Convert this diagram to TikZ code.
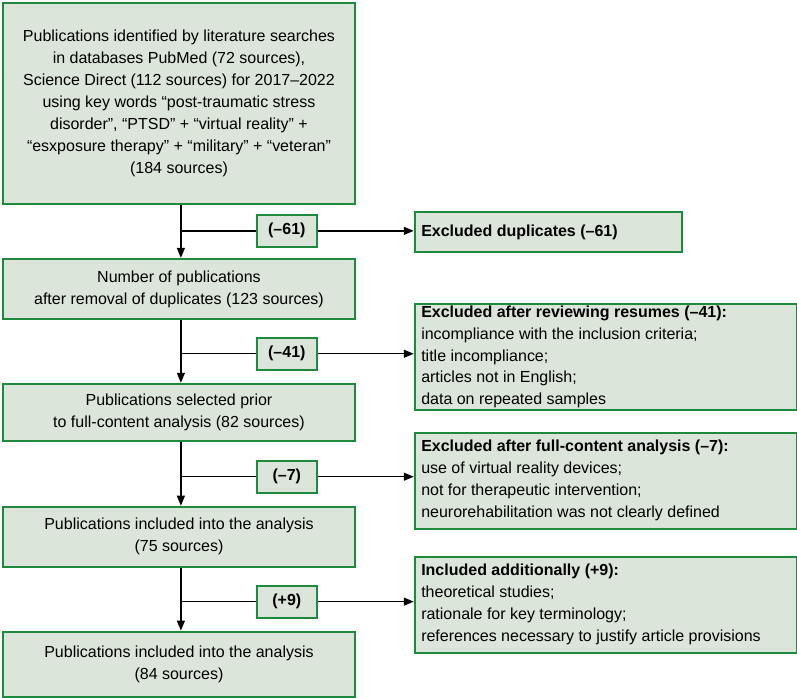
\documentclass[tikz,border=0pt]{standalone}
\usepackage{fontspec}
\setmainfont{Liberation Sans}
\usetikzlibrary{arrows.meta}
\definecolor{bfill}{HTML}{DCE5D9}
\definecolor{bdraw}{HTML}{1E8A3E}
\tikzset{
  box/.style={draw=bdraw,fill=bfill,line width=2.2pt,inner sep=0pt,anchor=north west},
  lbl/.style={draw=bdraw,fill=bfill,line width=2.2pt,minimum width=60pt,minimum height=32pt,font=\fontsize{16}{22}\selectfont\bfseries},
  con/.style={line width=1.3pt},
  arr/.style={con,-{Triangle[length=10pt,width=8pt]}},
  txt/.style={font=\fontsize{16}{22}\selectfont},
  btxt/.style={font=\fontsize{16}{22}\selectfont\bfseries},
}
\newcommand{\bx}[6]{% name, x1,y1,x2,y2, text
  \node[box,minimum width=#4pt-#2pt,minimum height=#5pt-#3pt] (#1) at (#2pt,-#3pt) {};
  #6}
\begin{document}
\begin{tikzpicture}[x=1pt,y=1pt]
\useasboundingbox (0,0) rectangle (797.5,-698);
% left boxes
\bx{b1}{2}{2}{354}{203}{\node[txt,align=center] at (b1.center) {Publications identified by literature searches\\in databases PubMed (72 sources),\\Science Direct (112 sources) for 2017–2022\\using key words “post-traumatic stress\\disorder”, “PTSD” + “virtual reality” +\\“esxposure therapy” + “military” + “veteran”\\(184 sources)};}
\bx{b2}{2}{258}{354}{318}{\node[txt,align=center] at (b2.center) {Number of publications\\after removal of duplicates (123 sources)};}
\bx{b3}{2}{383}{354}{440}{\node[txt,align=center] at (b3.center) {Publications selected prior\\to full-content analysis (82 sources)};}
\bx{b4}{2}{506}{354}{566}{\node[txt,align=center] at (b4.center) {Publications included into the analysis\\(75 sources)};}
\bx{b5}{2}{631}{354}{696}{\node[txt,align=center] at (b5.center) {Publications included into the analysis\\(84 sources)};}
% right boxes
\bx{r1}{414}{211}{681}{251}{\node[btxt,anchor=west] at ([xshift=4pt]r1.west) {Excluded duplicates (–61)};}
\bx{r2}{414}{303}{796}{409}{\node[txt,anchor=west,align=left] at ([xshift=4pt]r2.west) {\textbf{Excluded after reviewing resumes (–41):}\\incompliance with the inclusion criteria;\\title incompliance;\\articles not in English;\\data on repeated samples};}
\bx{r3}{414}{432}{796}{528}{\node[txt,anchor=west,align=left] at ([xshift=4pt]r3.west) {\textbf{Excluded after full-content analysis (–7):}\\use of virtual reality devices;\\not for therapeutic intervention;\\neurorehabilitation was not clearly defined};}
\bx{r4}{414}{556}{796}{652}{\node[txt,anchor=west,align=left] at ([xshift=4pt]r4.west) {\textbf{Included additionally (+9):}\\theoretical studies;\\rationale for key terminology;\\references necessary to justify article provisions};}
% branch coordinates
\coordinate (j1) at (181,-231);
\coordinate (j2) at (181,-354);
\coordinate (j3) at (181,-477);
\coordinate (j4) at (181,-602);
% connectors
\draw[arr] (b1.south -| j1) -- (b2.north -| j1);
\draw[arr] (b2.south -| j1) -- (b3.north -| j1);
\draw[arr] (b3.south -| j1) -- (b4.north -| j1);
\draw[arr] (b4.south -| j1) -- (b5.north -| j1);
\draw[arr] (j1) -- (j1 -| r1.west);
\draw[arr] (j2) -- (j2 -| r2.west);
\draw[arr] (j3) -- (j3 -| r3.west);
\draw[arr] (j4) -- (j4 -| r4.west);
% labels
\node[lbl] (l1) at (287,-231) {(–61)};
\node[lbl] (l2) at (287,-354) {(–41)};
\node[lbl] (l3) at (287,-477) {(–7)};
\node[lbl] (l4) at (287,-602) {(+9)};
\end{tikzpicture}
\end{document}
